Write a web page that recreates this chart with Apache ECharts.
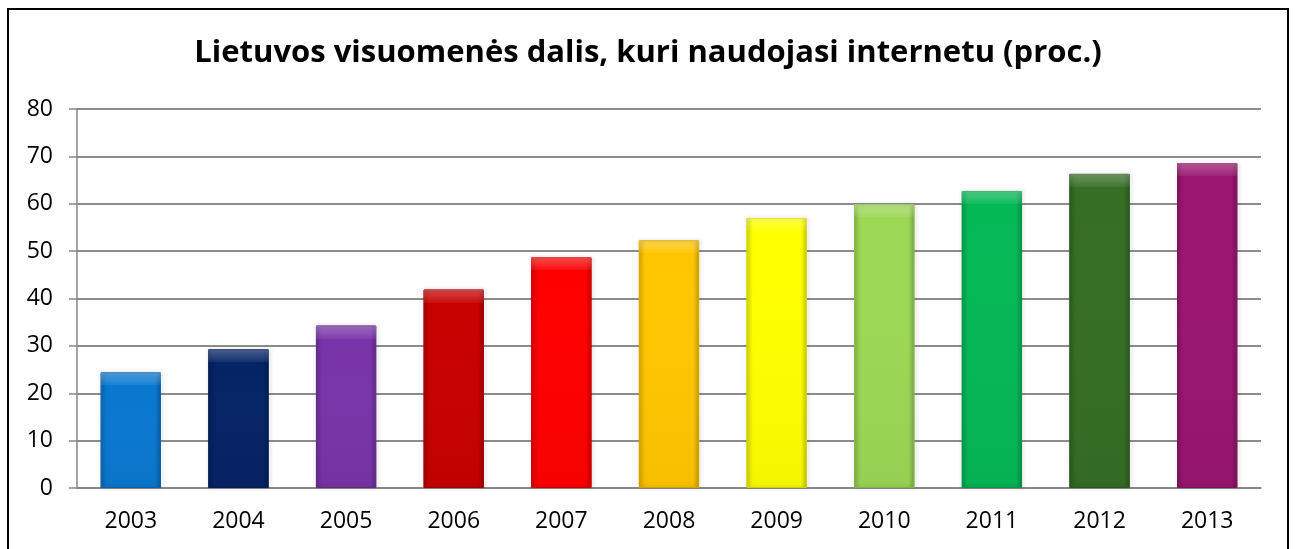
<!DOCTYPE html>
<html>
<head>
<meta charset="utf-8">
<script src="https://cdn.jsdelivr.net/npm/echarts@6/dist/echarts.min.js"></script>
<style>
  html, body { margin: 0; padding: 0; background: #fff; }
  #main { width: 1296px; height: 549px; }
</style>
</head>
<body>
<div id="main"></div>
<script>
var years = ['2003','2004','2005','2006','2007','2008','2009','2010','2011','2012','2013'];
var share = [24.4, 29.3, 34.3, 41.9, 48.7, 52.3, 57.0, 59.9, 62.7, 66.3, 68.6];   // proc.
var barColors = ['#0a78d0','#052466','#7834a8','#c80000','#ff0000','#ffc600',
                 '#ffff00','#9cd855','#05b856','#356e24','#9a1670'];
var yTicks = [0, 80, 10];   // min, max, interval

// darker/lighter versions of one hex colour
function shade(hex, f) {
  var n = parseInt(hex.slice(1), 16);
  var r = n >> 16, g = (n >> 8) & 255, b = n & 255;
  function c(v) { return Math.max(0, Math.min(255, Math.round(f < 0 ? v * (1 + f) : v + (255 - v) * f))); }
  return 'rgb(' + c(r) + ',' + c(g) + ',' + c(b) + ')';
}

var myChart = echarts.init(document.getElementById('main'));

var pxPerUnit = 379 / (yTicks[1] - yTicks[0]);   // plot height / range, for the bevel band

var data = share.map(function (v, i) {
  var col = barColors[i];
  return {
    value: v,
    itemStyle: {
      color: new echarts.graphic.LinearGradient(0, 0, 1, 0, [
        { offset: 0, color: shade(col, -0.12) },
        { offset: 0.1, color: col },
        { offset: 0.9, color: col },
        { offset: 1, color: shade(col, -0.2) }
      ]),
      borderColor: shade(col, -0.15),
      borderWidth: 1
    }
  };
});

// light top band (bevel look)
var bevel = share.map(function (v) {
  var b = Math.min(0.5, 13 / (v * pxPerUnit));
  return {
    value: v,
    itemStyle: {
      color: new echarts.graphic.LinearGradient(0, 0, 0, 1, [
        { offset: 0, color: 'rgba(255,255,255,0.28)' },
        { offset: b, color: 'rgba(255,255,255,0.06)' },
        { offset: b + 0.0001, color: 'rgba(255,255,255,0)' },
        { offset: 1, color: 'rgba(0,0,0,0.04)' }
      ])
    }
  };
});

var option = {
  backgroundColor: '#fff',
  textStyle: { fontFamily: '"Open Sans", sans-serif' },
  title: {
    text: 'Lietuvos visuomenės dalis, kuri naudojasi internetu (proc.)',
    left: 'center',
    top: 33,
    textStyle: { fontSize: 31, fontWeight: 'bold', color: '#000', fontFamily: '"Open Sans", sans-serif' }
  },
  grid: { left: 77, right: 35, top: 109, bottom: 61 },
  xAxis: {
    type: 'category',
    data: years,
    axisLine: { lineStyle: { color: '#868686', width: 1.5 } },
    axisTick: { length: 7, lineStyle: { color: '#868686', width: 1.5 } },
    axisLabel: { color: '#000', fontSize: 23, margin: 22 }
  },
  yAxis: {
    type: 'value',
    min: yTicks[0],
    max: yTicks[1],
    interval: yTicks[2],
    axisLine: { show: true, lineStyle: { color: '#868686', width: 1.5 } },
    axisTick: { show: true, length: 8, lineStyle: { color: '#868686', width: 1.5 } },
    axisLabel: { color: '#000', fontSize: 23, margin: 24 },
    splitLine: { lineStyle: { color: '#8c8c8c', width: 2 } }
  },
  graphic: [{
    type: 'rect',
    shape: { x: 8, y: 9, width: 1280, height: 600 },
    style: { fill: 'none', stroke: '#000', lineWidth: 2 },
    z: 100
  }],
  series: [{
    type: 'bar',
    barWidth: '56%',
    data: data,
    itemStyle: { shadowColor: 'rgba(0,0,0,0.25)', shadowBlur: 4, shadowOffsetX: 1 }
  }, {
    type: 'bar',
    barWidth: '56%',
    barGap: '-100%',
    silent: true,
    data: bevel
  }]
};

myChart.setOption(option);
</script>
</body>
</html>
